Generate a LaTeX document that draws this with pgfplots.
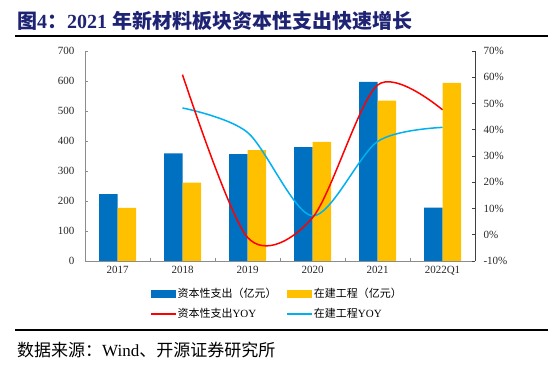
\documentclass[border=0pt]{standalone}
\usepackage{pgfplots}
\pgfplotsset{compat=1.18}
\usepackage{fontspec}
\setmainfont{Liberation Serif}
\newfontfamily\cjk{Noto Sans CJK SC}
\definecolor{barblue}{RGB}{0,112,192}
\definecolor{baryellow}{RGB}{255,192,0}
\definecolor{linered}{RGB}{255,0,0}
\definecolor{linecyan}{RGB}{0,176,240}
\definecolor{titlecol}{RGB}{30,35,115}
\definecolor{axgray}{RGB}{140,140,140}
\begin{document}
\begin{tikzpicture}
\useasboundingbox (0bp,0bp) rectangle (560bp,385bp);
\node[anchor=west, inner sep=0pt, text=titlecol, font=\fontsize{20bp}{22bp}\selectfont\bfseries] at (17bp,364bp)
  {{\cjk 图}4{\cjk ：}2021 {\cjk 年新材料板块资本性支出快速增长}};
\draw[line width=1.2bp] (15bp,349bp) -- (548bp,349bp);
\draw[line width=1.2bp] (15bp,55bp) -- (548bp,55bp);
\node[anchor=west, inner sep=0pt, font=\fontsize{17bp}{19bp}\selectfont] at (17bp,35bp)
  {{\cjk 数据来源：}Wind{\cjk 、开源证券研究所}};

\begin{axis}[
  at={(85bp,124bp)}, anchor=south west,
  scale only axis, width=390bp, height=210bp,
  xmin=-0.5, xmax=5.5, ymin=0, ymax=700,
  xtick={0,...,5},
  xticklabels={2017,2018,2019,2020,2021,2022Q1},
  major x tick style={draw=none},
  minor xtick={0.5,1.5,...,4.5},
  minor x tick style={axgray},
  ytick={0,100,...,700},
  axis x line*=bottom, axis y line*=left,
  axis line style={axgray, line width=0.8bp},
  tick style={axgray, line width=0.6bp},
  tick align=inside,
  major tick length=3bp, minor tick length=3bp,
  /pgf/number format/assume math mode=true,
  ticklabel style={font=\fontsize{11bp}{12bp}\selectfont, text=black!85},
  yticklabel style={xshift=-7bp},
  xticklabel style={yshift=-2bp},
]
\addplot[ybar, bar width=18.5bp, bar shift=-9.25bp, fill=barblue, draw=none]
  coordinates {(0,223) (1,359) (2,356) (3,380) (4,597) (5,178)};
\addplot[ybar, bar width=18.5bp, bar shift=9.25bp, fill=baryellow, draw=none]
  coordinates {(0,177) (1,261) (2,370) (3,397) (4,535) (5,594)};
\end{axis}

\begin{axis}[
  at={(85bp,124bp)}, anchor=south west,
  scale only axis, width=390bp, height=210bp,
  xmin=-0.5, xmax=5.5, ymin=-10, ymax=70,
  ytick={-10,0,...,70},
  yticklabel={\pgfmathprintnumber{\tick}\%},
  axis y line*=right, axis x line=none,
  axis line style={black!75, line width=0.8bp},
  tick style={black!75, line width=0.6bp},
  tick align=inside, major tick length=3bp,
  /pgf/number format/assume math mode=true,
  ticklabel style={font=\fontsize{11bp}{12bp}\selectfont, text=black!85},
  yticklabel style={xshift=5bp},
  legend columns=2,
  legend cell align=left,
  legend style={draw=none, fill=none, at={(0.169,-0.12)}, anchor=north west,
    inner sep=0pt, row sep=5bp,
    font=\fontsize{11bp}{12bp}\selectfont,
    /tikz/every even column/.append style={column sep=4bp}},
]
\addlegendimage{legend image code/.code={\fill[barblue] (0bp,-3.5bp) rectangle (24bp,3.5bp);}}
\addlegendentry{\makebox[104bp][l]{\cjk 资本性支出（亿元）}}
\addlegendimage{legend image code/.code={\fill[baryellow] (0bp,-3.5bp) rectangle (24bp,3.5bp);}}
\addlegendentry{{\cjk 在建工程（亿元）}}
\addlegendimage{legend image code/.code={\fill[linered] (0bp,-0.75bp) rectangle (24bp,0.75bp);}}
\addlegendentry{\makebox[104bp][l]{{\cjk 资本性支出}YOY}}
\addlegendimage{legend image code/.code={\fill[linecyan] (0bp,-0.75bp) rectangle (24bp,0.75bp);}}
\addlegendentry{{\cjk 在建工程}YOY}
\addplot[smooth, linecyan, line width=1.5bp, forget plot]
  coordinates {(1,48.3) (2,39) (3,7.2) (4,35.5) (5,40.9)};
\addplot[smooth, linered, line width=1.5bp, forget plot]
  coordinates {(1,61) (2,-1) (3,6.5) (4,57) (5,47.6)};
\end{axis}
\end{tikzpicture}
\end{document}
